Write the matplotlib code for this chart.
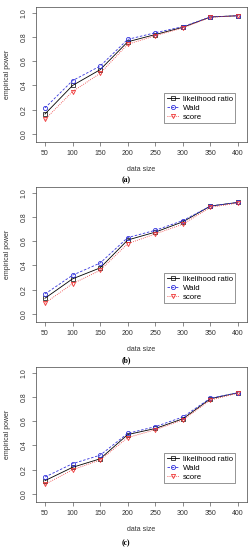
import matplotlib
matplotlib.use('Agg')
import matplotlib.pyplot as plt

plt.rcParams['font.family'] = ['Liberation Sans', 'DejaVu Sans']

sizes = [50, 100, 150, 200, 250, 300, 350, 400]

lr_a    = [0.165, 0.40, 0.53, 0.76, 0.82, 0.88, 0.965, 0.975]
wald_a  = [0.215, 0.44, 0.56, 0.78, 0.835, 0.885, 0.965, 0.975]
score_a = [0.12, 0.35, 0.50, 0.74, 0.81, 0.875, 0.962, 0.975]

lr_b    = [0.13, 0.29, 0.38, 0.61, 0.675, 0.76, 0.89, 0.92]
wald_b  = [0.165, 0.32, 0.42, 0.63, 0.69, 0.77, 0.89, 0.92]
score_b = [0.09, 0.25, 0.36, 0.58, 0.66, 0.74, 0.88, 0.915]

lr_c    = [0.11, 0.22, 0.29, 0.49, 0.54, 0.62, 0.785, 0.835]
wald_c  = [0.14, 0.25, 0.32, 0.50, 0.555, 0.635, 0.79, 0.835]
score_c = [0.08, 0.20, 0.28, 0.465, 0.53, 0.61, 0.775, 0.83]

panels = [('(a)', lr_a, wald_a, score_a),
          ('(b)', lr_b, wald_b, score_b),
          ('(c)', lr_c, wald_c, score_c)]

W, H = 252, 550
fig = plt.figure(figsize=(W / 100, H / 100), dpi=100)

tops = [7, 187, 367]
tag_y = [180, 360, 543]
fs = 5.0

for top, ty, (tag, lr, wald, score) in zip(tops, tag_y, panels):
    ax = fig.add_axes([36 / W, 1 - (top + 135) / H, 211 / W, 135 / H])
    ax.plot(sizes, lr, color='black', lw=0.6, ls='-', marker='s', ms=2.6,
            mfc='none', mew=0.5, label='likelihood ratio')
    ax.plot(sizes, wald, color='#3333dd', lw=0.6, ls=(0, (3, 2)), marker='o', ms=3.0,
            mfc='none', mew=0.6, label='Wald')
    ax.plot(sizes, score, color='#ee3333', lw=0.6, ls=(0, (1, 1.5)), marker='v', ms=3.0,
            mfc='none', mew=0.6, label='score')

    ax.set_xlim(33.7, 416.3)
    ax.set_ylim(-0.066, 1.047)
    ax.set_xticks(sizes)
    ax.set_yticks([0.0, 0.2, 0.4, 0.6, 0.8, 1.0])
    ax.set_yticklabels(['0.0', '0.2', '0.4', '0.6', '0.8', '1.0'], rotation=90, va='center')
    ax.tick_params(labelsize=fs, length=3, width=0.4, pad=3, colors='#333333')
    for sp in ax.spines.values():
        sp.set_linewidth(0.5)
        sp.set_color('#444444')
    ax.set_xlabel('data size', fontsize=fs, color='#333333', labelpad=6.5)
    ax.set_ylabel('empirical power', fontsize=fs, color='#333333', labelpad=7)

    leg = ax.legend(loc='lower right', bbox_to_anchor=(0.945, 0.14), fontsize=fs + 0.6,
                    frameon=True, fancybox=False, edgecolor='#444444',
                    handlelength=1.6, handletextpad=0.5, borderpad=0.3,
                    labelspacing=0.2, borderaxespad=0)
    leg.get_frame().set_linewidth(0.5)

    fig.text(0.5, 1 - ty / H, tag, ha='center', va='center',
             fontsize=5.5, family='Liberation Serif', fontweight='bold')

fig.savefig('out.png', dpi=100)
